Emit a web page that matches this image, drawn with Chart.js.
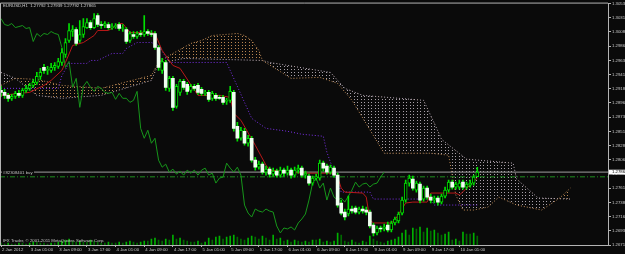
<!DOCTYPE html>
<html>
<head>
<meta charset="utf-8">
<script src="https://cdn.jsdelivr.net/npm/chart.js@4.4.1/dist/chart.umd.min.js"></script>
<style>
  html, body { margin: 0; background: #0a0a0a; }
  canvas { display: block; }
</style>
</head>
<body>
<canvas id="chart" width="625" height="254"></canvas>
<script>
// EURUSD H1, 2 Jan 17:00 .. 10 Jan 05:00 (bar index = slot on the x axis)
const xTickBars = [0, 8, 16, 24, 32, 40, 48, 56, 64, 72, 80, 88, 96, 104, 112, 120, 128];
const xTickLabels = ['2 Jan 2012', '3 Jan 01:00', '3 Jan 09:00', '3 Jan 17:00', '4 Jan 01:00', '4 Jan 09:00',
  '4 Jan 17:00', '5 Jan 01:00', '5 Jan 09:00', '5 Jan 17:00', '6 Jan 01:00', '6 Jan 09:00', '6 Jan 17:00',
  '9 Jan 01:00', '9 Jan 09:00', '9 Jan 17:00', '10 Jan 01:00'];
const yTicks = [1.30535, 1.30310, 1.30085, 1.29860, 1.29635, 1.29410, 1.29185, 1.28960, 1.28735,
  1.28510, 1.28285, 1.28060, 1.27835, 1.27610, 1.27385, 1.27160, 1.26935, 1.26710];

const opens = [1.29160,1.29128,1.29081,1.29034,1.29065,1.29113,1.29081,1.29160,1.29192,1.29239,
  1.29286,1.29381,1.29523,1.29476,1.29476,1.29523,1.29539,1.29602,1.29729,1.29950,
  1.30092,1.30124,1.29950,1.30045,1.30155,1.30234,1.30155,1.30345,1.30203,1.30187,
  1.30203,1.30155,1.30171,1.30203,1.30140,1.30124,1.29950,1.30045,1.30013,1.30061,
  1.30045,1.30092,1.30061,1.30061,1.29839,1.29476,1.29602,1.29192,1.29350,1.28907,
  1.29128,1.29302,1.29255,1.29160,1.29223,1.29239,1.29176,1.29113,1.29128,1.29034,
  1.29081,1.29049,1.29049,1.28986,1.29002,1.29128,1.28591,1.28401,1.28512,1.28322,
  1.28401,1.28054,1.27943,1.27991,1.27864,1.27912,1.27833,1.27880,1.27817,1.27896,
  1.27848,1.27896,1.27817,1.27896,1.27928,1.27817,1.27801,1.27691,1.27770,1.27770,
  1.28007,1.27959,1.27864,1.27928,1.27817,1.27375,1.27232,1.27201,1.27280,1.27296,
  1.27232,1.27280,1.27264,1.27232,1.27027,1.26901,1.26980,1.26964,1.27027,1.26948,
  1.27059,1.27090,1.27216,1.27422,1.27691,1.27754,1.27580,1.27675,1.27438,1.27612,
  1.27469,1.27422,1.27454,1.27390,1.27485,1.27580,1.27706,1.27628,1.27628,1.27706,
  1.27628,1.27659,1.27691,1.27792];
const highs = [1.29223,1.29176,1.29113,1.29097,1.29144,1.29160,1.29192,1.29239,1.29271,1.29334,
  1.29444,1.29508,1.29571,1.29539,1.29587,1.29602,1.29666,1.29824,1.29982,1.30219,
  1.30187,1.30155,1.30266,1.30298,1.30298,1.30266,1.30377,1.30377,1.30250,1.30250,
  1.30234,1.30219,1.30219,1.30234,1.30203,1.30155,1.30092,1.30092,1.30092,1.30108,
  1.30345,1.30124,1.30108,1.30092,1.29871,1.29666,1.29634,1.29381,1.29381,1.29255,
  1.29334,1.29334,1.29286,1.29255,1.29255,1.29271,1.29208,1.29160,1.29160,1.29144,
  1.29113,1.29081,1.29081,1.29034,1.29223,1.29160,1.28654,1.28575,1.28558,1.28449,
  1.28433,1.28101,1.28038,1.28022,1.27959,1.27943,1.27928,1.27912,1.27943,1.27928,
  1.27959,1.27928,1.27943,1.27975,1.27959,1.27880,1.27833,1.27801,1.27833,1.28054,
  1.28038,1.27991,1.27975,1.27959,1.27848,1.27422,1.27280,1.27485,1.27327,1.27327,
  1.27311,1.27327,1.27311,1.27264,1.27059,1.27011,1.27011,1.27043,1.27075,1.27090,
  1.27153,1.27232,1.27469,1.27738,1.27817,1.27801,1.27722,1.27706,1.27643,1.27643,
  1.27517,1.27485,1.27485,1.27517,1.27628,1.27738,1.27738,1.27706,1.27738,1.27738,
  1.27706,1.27738,1.27817,1.27939];
const lows = [1.29065,1.29034,1.28986,1.29002,1.29034,1.29049,1.29049,1.29128,1.29160,1.29208,
  1.29255,1.29334,1.29429,1.29413,1.29444,1.29476,1.29508,1.29555,1.29681,1.29918,
  1.30013,1.29871,1.29918,1.29997,1.30140,1.30124,1.30140,1.30171,1.30140,1.30155,
  1.30124,1.30124,1.30140,1.30108,1.30092,1.29903,1.29918,1.29982,1.29982,1.30013,
  1.30013,1.30029,1.30013,1.29808,1.29476,1.29429,1.29160,1.29144,1.28844,1.28876,
  1.29081,1.29176,1.29097,1.29128,1.29160,1.29097,1.29081,1.29081,1.28986,1.29002,
  1.29002,1.29018,1.28939,1.28939,1.28970,1.28512,1.28354,1.28370,1.28291,1.28275,
  1.28022,1.27896,1.27912,1.27833,1.27817,1.27785,1.27801,1.27785,1.27785,1.27801,
  1.27817,1.27770,1.27785,1.27848,1.27785,1.27770,1.27659,1.27659,1.27738,1.27738,
  1.27880,1.27833,1.27833,1.27785,1.27311,1.27185,1.27106,1.27169,1.27216,1.27201,
  1.27201,1.27216,1.27185,1.26980,1.26854,1.26869,1.26917,1.26933,1.26917,1.26917,
  1.27027,1.27059,1.27185,1.27390,1.27643,1.27580,1.27548,1.27375,1.27406,1.27438,
  1.27375,1.27375,1.27343,1.27359,1.27454,1.27548,1.27596,1.27596,1.27596,1.27596,
  1.27596,1.27628,1.27659,1.27792];
const closes = [1.29128,1.29081,1.29034,1.29065,1.29113,1.29081,1.29160,1.29192,1.29239,1.29286,
  1.29381,1.29444,1.29476,1.29476,1.29523,1.29555,1.29618,1.29760,1.29918,1.30108,
  1.30124,1.29903,1.30045,1.30171,1.30234,1.30155,1.30298,1.30203,1.30187,1.30219,
  1.30155,1.30171,1.30187,1.30140,1.30155,1.29934,1.30061,1.30013,1.30061,1.30045,
  1.30092,1.30061,1.30045,1.29839,1.29523,1.29618,1.29208,1.29350,1.28891,1.29223,
  1.29302,1.29208,1.29144,1.29223,1.29192,1.29128,1.29113,1.29128,1.29018,1.29113,
  1.29034,1.29034,1.28970,1.29002,1.29144,1.28558,1.28401,1.28528,1.28322,1.28401,
  1.28054,1.27943,1.27991,1.27864,1.27912,1.27833,1.27880,1.27817,1.27896,1.27848,
  1.27896,1.27817,1.27896,1.27928,1.27817,1.27848,1.27691,1.27770,1.27785,1.28007,
  1.27928,1.27864,1.27943,1.27817,1.27343,1.27216,1.27153,1.27280,1.27248,1.27232,
  1.27280,1.27248,1.27232,1.27011,1.26901,1.26980,1.26964,1.26996,1.26948,1.27059,
  1.27122,1.27201,1.27422,1.27691,1.27770,1.27612,1.27691,1.27422,1.27612,1.27469,
  1.27422,1.27454,1.27390,1.27485,1.27580,1.27706,1.27628,1.27675,1.27691,1.27628,
  1.27675,1.27691,1.27785,1.27865];
const volumes = [800,400,800,400,400,800,800,400,800,1200,1200,800,800,400,800,800,1200,1600,2000,2400,
  1600,1200,1600,1200,1200,2000,1600,1200,800,800,1200,800,800,1200,800,1200,1600,1200,800,1200,
  1600,1600,2400,2800,2000,1600,2400,2000,4000,2400,2800,2000,1600,1200,1200,1600,800,1200,2800,2000,
  3200,3600,2400,3200,3600,4000,3200,2400,2000,2800,3600,3200,2400,3600,2800,2000,4000,2400,2800,1600,
  2000,1200,2000,1600,1200,1600,1200,2000,2000,2400,1200,1600,1200,1600,4800,4000,1600,1200,2000,1200,
  800,1600,1200,3600,2400,1600,1200,800,1600,2000,2400,3200,4800,6000,4000,6800,6400,7200,5200,6800,
  5600,6000,4800,4000,4400,5200,2000,2400,1600,5200,4400,4400,4800,3600];

// Ichimoku lines, read as [bar, price] vertices
const tenkan = [[0,1.29081],[8,1.29128],[12,1.29239],[14,1.29318],[17,1.29476],[18,1.29602],[20,1.29871],
  [23,1.29918],[26,1.30029],[27,1.30108],[30,1.30108],[33,1.30219],[34,1.30219],[36,1.30076],[42,1.30076],
  [43,1.30061],[45,1.29792],[48,1.29555],[50,1.29508],[55,1.29081],[61,1.29081],[64,1.29049],[65,1.28796],
  [67,1.28686],[71,1.28291],[74,1.27975],[75,1.27896],[84,1.27848],[93,1.27848],[94,1.27785],[95,1.27612],
  [96,1.27548],[101,1.27533],[102,1.27469],[103,1.27106],[104,1.27059],[109,1.27059],[110,1.27106],
  [113,1.27375],[115,1.27390],[119,1.27390],[120,1.27533],[127,1.27533],[128,1.27501],[133,1.27770]];
const kijun = [[0,1.29192],[16,1.29192],[17,1.29397],[19,1.29587],[24,1.29587],[25,1.29634],[27,1.29634],
  [31,1.29745],[34,1.29745],[35,1.29824],[38,1.29918],[42,1.29918],[44,1.29871],[47,1.29602],[63,1.29602],
  [70,1.28717],[74,1.28558],[80,1.28512],[84,1.28465],[90,1.28433],[91,1.28180],[95,1.27548],[103,1.27548],
  [104,1.27438],[120,1.27438],[121,1.27343],[133,1.27343]];
const spanA = [[0,1.29239],[4,1.29350],[10,1.29334],[17,1.29239],[28,1.29192],[42,1.29397],[44,1.29602],
  [47,1.29713],[53,1.29903],[56,1.29950],[59,1.30029],[66,1.30061],[68,1.30029],[70,1.29950],[72,1.29792],
  [73,1.29634],[81,1.29350],[89,1.29366],[94,1.29271],[98,1.29002],[107,1.28164],[120,1.28164],
  [125,1.28133],[127,1.27501],[129,1.27264],[132,1.27264],[136,1.27311],[139,1.27469],[144,1.27343],
  [151,1.27264],[156,1.27454],[159,1.27612]];
const spanB = [[0,1.29444],[4,1.29350],[10,1.29081],[17,1.29034],[28,1.29081],[42,1.29318],[44,1.29587],
  [51,1.29666],[73,1.29634],[75,1.29602],[92,1.29444],[96,1.29192],[101,1.29081],[118,1.29002],
  [121,1.28639],[123,1.28386],[130,1.28070],[143,1.28007],[144,1.27754],[150,1.27454],[159,1.27438]];

const bidPrice = 1.27865;
const orderPrice = 1.27790;

const ctx = document.getElementById('chart').getContext('2d');

// dotted kumo hatch, like MT4 histogram in DOT style
function hatch(color) {
  const c = document.createElement('canvas');
  c.width = 7; c.height = 3;
  const g = c.getContext('2d');
  g.fillStyle = color;
  g.fillRect(0, 0, 1, 1);
  g.fillRect(4, 0, 1, 1);
  return ctx.createPattern(c, 'repeat');
}

const pts = arr => arr.map(([x, y]) => ({ x, y }));
const XMIN = -0.28, XMAX = 169.5;

const overlay = {
  id: 'overlay',
  beforeDraw(chart) {
    const c = chart.ctx;
    c.save();
    c.fillStyle = '#0a0a0a';
    c.fillRect(0, 0, chart.width, chart.height);
    c.restore();
  },
  afterDraw(chart) {
    const c = chart.ctx, a = chart.chartArea, y = chart.scales.y;
    c.save();
    c.strokeStyle = '#b4b4b4';
    c.lineWidth = 1;
    c.beginPath();
    c.moveTo(0.5, a.bottom);
    c.lineTo(0.5, a.top - 0.5);
    c.lineTo(a.right, a.top - 0.5);
    c.stroke();

    c.font = '4.3px "Liberation Sans"';
    c.textBaseline = 'middle';
    c.fillStyle = '#d0d0d0';
    c.fillText('EURUSD,H1  1.27792 1.27939 1.27792 1.27865', 3, 5.5);
    c.fillStyle = '#c0c0c0';
    c.fillText('IFX Trader, \u00a9 2001-2011 MetaQuotes Software Corp.', 3, 241);

    const oy = y.getPixelForValue(orderPrice);
    c.fillStyle = '#0a0a0a';
    c.fillRect(2, oy - 6, 32, 4);
    c.fillStyle = '#c0c0c0';
    c.fillText('#82308401 buy', 3, oy - 3.8);

    const by = y.getPixelForValue(bidPrice);
    c.fillStyle = '#ffffff';
    c.fillRect(a.right + 1, by - 2.4, 20, 4.8);
    c.fillStyle = '#000000';
    c.fillText(bidPrice.toFixed(5), a.right + 4, by);
    c.restore();
  }
};

new Chart(ctx, {
  type: 'line',
  data: {
    datasets: [
      {
        label: 'Senkou Span A', data: pts(spanA), borderColor: '#c08a55', borderWidth: 1, borderDash: [1, 2],
        fill: { target: '+1', above: hatch('#b88550'), below: hatch('#a8a0a8') }, order: 10
      },
      { label: 'Senkou Span B', data: pts(spanB), borderColor: '#b8aab8', borderWidth: 1, borderDash: [1, 2], fill: false, order: 10 },
      {
        type: 'bar', label: 'Volumes', yAxisID: 'yv', grouped: false, barThickness: 1, order: 9,
        data: volumes.map((v, i) => ({ x: i, y: v })),
        backgroundColor: volumes.map((v, i) => (i > 0 && v > volumes[i - 1]) ? '#00b000' : '#006a00')
      },
      { label: 'Bid', data: [{ x: XMIN, y: bidPrice }, { x: XMAX, y: bidPrice }], borderColor: '#a0a0a0', borderWidth: 1, order: 8 },
      { label: 'Order', data: [{ x: XMIN, y: orderPrice }, { x: XMAX, y: orderPrice }], borderColor: '#1f8f1f', borderWidth: 1, borderDash: [5, 2, 1, 2], order: 8 },
      { label: 'Chikou Span', data: closes.slice(26).map((c, k) => ({ x: k, y: c })), borderColor: '#16961a', borderWidth: 1, order: 5 },
      { label: 'Kijun-sen', data: pts(kijun), borderColor: '#7a30e8', borderWidth: 1, borderDash: [1, 2], order: 4 },
      { label: 'Tenkan-sen', data: pts(tenkan), borderColor: '#b81818', borderWidth: 1, order: 3 },
      {
        type: 'bar', label: 'Wicks', grouped: false, barThickness: 1, order: 2,
        data: highs.map((h, i) => ({ x: i, y: [lows[i], h] })), backgroundColor: '#00e000'
      },
      {
        type: 'bar', label: 'Bodies', grouped: false, barThickness: 3, minBarLength: 1, order: 1,
        data: opens.map((o, i) => ({ x: i, y: [o, closes[i]] })),
        backgroundColor: opens.map((o, i) => closes[i] >= o ? '#000000' : '#effff0'),
        borderColor: '#00e000',
        borderWidth: opens.map((o, i) => closes[i] >= o ? 1 : 0),
        borderSkipped: false
      }
    ]
  },
  options: {
    responsive: false,
    animation: false,
    devicePixelRatio: 1,
    layout: { padding: { top: 3, left: 0, right: 0, bottom: 0 } },
    elements: { point: { radius: 0 }, line: { tension: 0 } },
    plugins: { legend: { display: false }, tooltip: { enabled: false } },
    scales: {
      x: {
        type: 'linear', min: XMIN, max: XMAX, offset: false,
        afterBuildTicks: s => { s.ticks = xTickBars.map(v => ({ value: v })); },
        afterFit: s => { s.height = 9; },
        ticks: {
          autoSkip: false, maxRotation: 0, align: 'start', labelOffset: 1, padding: 0,
          color: '#c8c8c8', font: { size: 4.3, family: 'Liberation Sans' },
          callback: (v, i) => xTickLabels[i]
        },
        grid: { drawOnChartArea: false, drawTicks: true, tickLength: 2, color: '#b4b4b4', offset: false },
        border: { display: true, color: '#b4b4b4' }
      },
      y: {
        type: 'linear', position: 'right', min: 1.26710, max: 1.30535,
        afterBuildTicks: s => { s.ticks = yTicks.map(v => ({ value: v })); },
        afterFit: s => { s.width = 17; },
        ticks: {
          autoSkip: false, padding: 1, color: '#c8c8c8', font: { size: 4.3, family: 'Liberation Sans' },
          callback: v => v.toFixed(5)
        },
        grid: { drawOnChartArea: false, drawTicks: true, tickLength: 3, color: '#b4b4b4' },
        border: { display: true, color: '#b4b4b4' }
      },
      yv: { display: false, min: 0, max: 96800 }
    }
  },
  plugins: [overlay]
});
</script>
</body>
</html>
